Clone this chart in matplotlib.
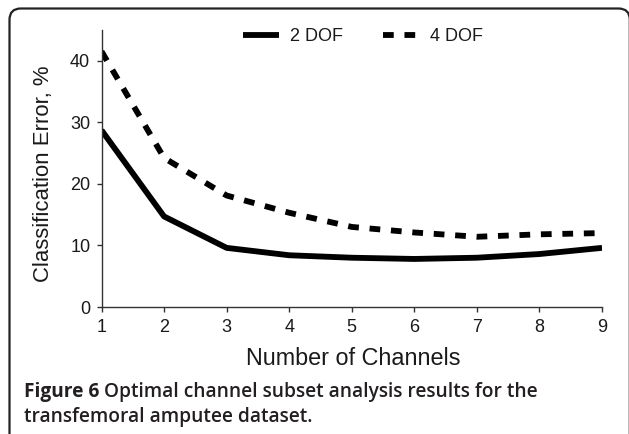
import matplotlib
matplotlib.use("Agg")
import matplotlib.pyplot as plt
from matplotlib.patches import FancyBboxPatch

channels = [1, 2, 3, 4, 5, 6, 7, 8, 9]
err_2dof = [28.7, 14.7, 9.6, 8.4, 8.0, 7.8, 8.0, 8.6, 9.6]
err_4dof = [41.5, 24.2, 18.1, 15.3, 13.0, 12.1, 11.4, 11.8, 12.0]
series_labels = ["2 DOF", "4 DOF"]
yticks = [0, 10, 20, 30, 40]
xlabel = "Number of Channels"
ylabel = "Classification Error, %"
caption_bold = "Figure 6"
caption_line1 = "Optimal channel subset analysis results for the"
caption_line2 = "transfemoral amputee dataset."

W, H = 629, 434
fig = plt.figure(figsize=(W / 100, H / 100), dpi=100)
chart_font = "Liberation Sans"
cap_font = "Open Sans"

ax = fig.add_axes([101.5 / W, 1 - 307 / H, 500.5 / W, (307 - 29.8) / H])
ax.plot(channels, err_2dof, color="black", lw=4.2, solid_joinstyle="round",
        solid_capstyle="butt", label=series_labels[0])
ax.plot(channels, err_4dof, color="black", lw=4.2, linestyle=(0, (1.84, 1.84)),
        dash_capstyle="butt", label=series_labels[1])
ax.set_xlim(1, 9)
ax.set_ylim(0, 45)
ax.set_yticks(yticks)
ax.set_xticks(channels)
for s in ["top", "right"]:
    ax.spines[s].set_visible(False)
for s in ["left", "bottom"]:
    ax.spines[s].set_linewidth(1.0)
    ax.spines[s].set_color("#333333")
ax.tick_params(axis="both", direction="out", length=3.8, width=1.0,
               color="#333333", labelsize=13)
ax.tick_params(axis="y", pad=4.3)
ax.tick_params(axis="x", pad=4.5)
for lab in ax.get_xticklabels() + ax.get_yticklabels():
    lab.set_fontfamily(chart_font)
    lab.set_color("#1a1a1a")
ax.patch.set_alpha(0)

leg = ax.legend(ncol=2, frameon=False, loc="upper left", borderpad=0,
                bbox_to_anchor=(243 / W, 1 - 28 / H), bbox_transform=fig.transFigure,
                handlelength=2.0, columnspacing=2.2, handletextpad=0.6,
                borderaxespad=0,
                prop={"family": chart_font, "size": 13})
for t in leg.get_texts():
    t.set_color("#1a1a1a")

fig.text(353 / W, 1 - 365 / H, xlabel, ha="center", va="baseline",
         fontsize=16.8, family=chart_font, color="#1a1a1a")
fig.text(44 / W, 1 - 174 / H, ylabel, ha="center", va="center",
         rotation=90, fontsize=15.9, family=chart_font, color="#1a1a1a")

cap_size = 13.8
t1 = fig.text(24 / W, 1 - 397 / H, caption_bold, ha="left", va="baseline",
              fontsize=cap_size, family=cap_font, weight="bold", color="#231f20")
fig.canvas.draw()
bb = t1.get_window_extent()
fig.text((bb.x1 + 4.5) / W, 1 - 397 / H, caption_line1,
         ha="left", va="baseline", fontsize=cap_size, family=cap_font,
         weight="semibold", color="#231f20")
fig.text(24 / W, 1 - 422 / H, caption_line2,
         ha="left", va="baseline", fontsize=cap_size, family=cap_font,
         weight="semibold", color="#231f20")

box = FancyBboxPatch((9.5 / W, -0.05), (629.8 - 9.5) / W, (1 - 8.5 / H) + 0.05,
                     boxstyle="round,pad=0,rounding_size=0.018",
                     transform=fig.transFigure, fill=False, edgecolor="#222222",
                     lw=1.6, mutation_aspect=W / H)
fig.patches.append(box)

fig.savefig("out.png", dpi=100)
